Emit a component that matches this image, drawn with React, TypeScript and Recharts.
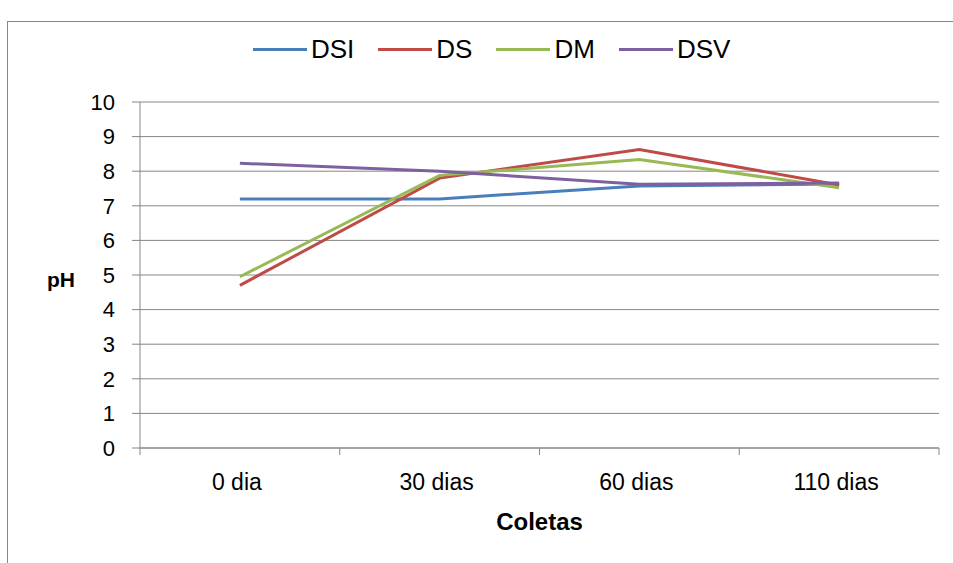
import { CartesianGrid, Line, LineChart, XAxis, YAxis } from "recharts";

const coletas = ["0 dia", "30 dias", "60 dias", "110 dias"];
const dsi = [7.2, 7.2, 7.57, 7.63];
const ds = [4.7, 7.8, 8.63, 7.6];
const dm = [4.95, 7.88, 8.34, 7.52];
const dsv = [8.23, 8.0, 7.62, 7.66];
const yTicks = [0, 1, 2, 3, 4, 5, 6, 7, 8, 9, 10];

const series = [
  { key: "DSI", color: "#4a7ebb" },
  { key: "DS", color: "#be4b48" },
  { key: "DM", color: "#98b954" },
  { key: "DSV", color: "#7d60a0" },
];

const data = coletas.map((c, i) => ({ coleta: c, DSI: dsi[i], DS: ds[i], DM: dm[i], DSV: dsv[i] }));

const W = 953;
const H = 563;
const margin = { top: 102, right: 14, bottom: 70, left: 80 };
const yAxisW = 60;
const band = (W - margin.left - margin.right - yAxisW) / coletas.length;
const axisColor = "#868686";
const font = "'Liberation Sans', Arial, sans-serif";

function XTick(props: any) {
  const { x, y, payload, index } = props;
  const left = x - band / 2;
  return (
    <g>
      <line x1={left} x2={left} y1={y} y2={y + 7} stroke={axisColor} />
      {index === coletas.length - 1 && (
        <line x1={x + band / 2} x2={x + band / 2} y1={y} y2={y + 7} stroke={axisColor} />
      )}
      <text x={x - 3} y={y + 42} textAnchor="middle" fontSize={23} fontFamily={font} fill="#000">
        {payload.value}
      </text>
    </g>
  );
}

function LegendRow() {
  return (
    <div
      style={{
        position: "absolute",
        top: 34,
        left: 253,
        display: "flex",
        alignItems: "center",
        fontFamily: font,
        fontSize: 26,
        lineHeight: "30px",
        whiteSpace: "nowrap",
      }}
    >
      {series.map((s) => (
        <div key={s.key} style={{ display: "flex", alignItems: "center", marginRight: 24 }}>
          <span style={{ display: "inline-block", width: 54, height: 3, background: s.color, marginRight: 4 }} />
          <span>{s.key}</span>
        </div>
      ))}
    </div>
  );
}

export default function App() {
  return (
    <div style={{ position: "absolute", left: 0, top: 0, width: W, height: H, overflow: "hidden", background: "#fff" }}>
      <div style={{ position: "absolute", left: 7, top: 21, width: 1000, height: 600, border: `1px solid ${axisColor}` }} />
      <LineChart width={W} height={H} data={data} margin={margin} style={{ position: "absolute", left: 0, top: 0 }}>
        <CartesianGrid vertical={false} stroke={axisColor} strokeWidth={1} />
        <XAxis
          dataKey="coleta"
          stroke={axisColor}
          tickLine={false}
          tick={<XTick />}
          tickSize={0}
          tickMargin={0}
          padding={{ left: band / 2, right: band / 2 }}
          height={45}
          label={{ value: "Coletas", position: "bottom", offset: 20, fontSize: 24, fontWeight: "bold", fontFamily: font, fill: "#000" }}
        />
        <YAxis
          domain={[0, 10]}
          ticks={yTicks}
          interval={0}
          width={yAxisW}
          stroke={axisColor}
          tickSize={8}
          tickMargin={17}
          tick={{ fill: "#000", fontSize: 22, fontFamily: font }}
          label={{ value: "pH", position: "insideLeft", offset: -33, dy: 5, fontSize: 21, fontWeight: "bold", fontFamily: font, fill: "#000" }}
        />
        {series.map((s) => (
          <Line
            key={s.key}
            dataKey={s.key}
            stroke={s.color}
            strokeWidth={3}
            dot={false}
            activeDot={false}
            isAnimationActive={false}
          />
        ))}
      </LineChart>
      <LegendRow />
    </div>
  );
}
